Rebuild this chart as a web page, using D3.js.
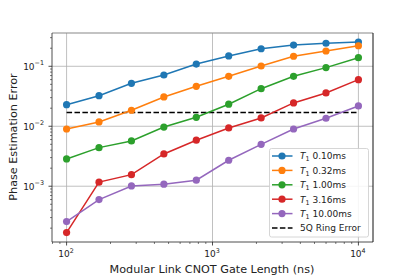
<!DOCTYPE html>
<html>
<head>
<meta charset="utf-8">
<script src="https://cdn.jsdelivr.net/npm/d3@7"></script>
<style>
  body { margin: 0; background: #fff; }
  svg { font-family: "DejaVu Sans", sans-serif; }
</style>
</head>
<body>
<svg id="chart" width="415" height="277"></svg>
<script>
// gate lengths (ns)
var gateLen = [100, 166.8, 278.3, 464.2, 774.3, 1291.5, 2154.4, 3593.8, 5994.8, 10000];
var t1Labels = ['0.10ms', '0.32ms', '1.00ms', '3.16ms', '10.00ms'];
var errT1_010 = [0.0229, 0.0323, 0.052, 0.0716, 0.109, 0.149, 0.196, 0.226, 0.242, 0.254];
var errT1_032 = [0.0090, 0.0118, 0.0185, 0.0308, 0.0464, 0.068, 0.101, 0.147, 0.18, 0.220];
var errT1_100 = [0.00285, 0.0044, 0.00569, 0.0097, 0.0141, 0.0233, 0.0423, 0.068, 0.095, 0.139];
var errT1_316 = [0.000169, 0.00117, 0.00156, 0.00345, 0.00585, 0.00937, 0.01375, 0.0245, 0.0359, 0.0598];
var errT1_1000 = [0.000257, 0.000598, 0.00101, 0.00108, 0.00126, 0.00271, 0.0050, 0.0090, 0.0136, 0.0218];
var ringError = 0.0169;
var colors = ['#1f77b4', '#ff7f0e', '#2ca02c', '#d62728', '#9467bd'];
var xTicks = [1e2, 1e3, 1e4];
var yTicks = [1e-3, 1e-2, 1e-1];

var series = [errT1_010, errT1_032, errT1_100, errT1_316, errT1_1000];

var margin = { top: 33, right: 42, bottom: 35, left: 52 };
var width = 415 - margin.left - margin.right;
var height = 277 - margin.top - margin.bottom;

var svg = d3.select('#chart');
var g = svg.append('g').attr('transform', `translate(${margin.left},${margin.top})`);

var x = d3.scaleLog().domain([Math.pow(10, 1.9), Math.pow(10, 4.1)]).range([0, width]);
var y = d3.scaleLog().domain([Math.pow(10, -3.93), Math.pow(10, -0.445)]).range([height, 0]);

// grid
g.append('g').selectAll('line').data(xTicks).enter().append('line')
  .attr('x1', d => x(d)).attr('x2', d => x(d))
  .attr('y1', 0).attr('y2', height)
  .attr('stroke', '#b0b0b0').attr('stroke-width', 0.8);
g.append('g').selectAll('line').data(yTicks).enter().append('line')
  .attr('y1', d => y(d)).attr('y2', d => y(d))
  .attr('x1', 0).attr('x2', width)
  .attr('stroke', '#b0b0b0').attr('stroke-width', 0.8);

// minor ticks
var xMinor = [];
[10, 100, 1000, 10000].forEach(function (b) {
  for (var k = 2; k < 10; k++) {
    var v = b * k;
    if (v > x.domain()[0] && v < x.domain()[1]) xMinor.push(v);
  }
});
var yMinor = [];
[1e-4, 1e-3, 1e-2, 1e-1].forEach(function (b) {
  for (var k = 2; k < 10; k++) {
    var v = b * k;
    if (v > y.domain()[0] && v < y.domain()[1]) yMinor.push(v);
  }
});
g.append('g').selectAll('line').data(xMinor).enter().append('line')
  .attr('x1', d => x(d)).attr('x2', d => x(d))
  .attr('y1', height).attr('y2', height + 2)
  .attr('stroke', '#222').attr('stroke-width', 0.6);
g.append('g').selectAll('line').data(yMinor).enter().append('line')
  .attr('y1', d => y(d)).attr('y2', d => y(d))
  .attr('x1', 0).attr('x2', -2)
  .attr('stroke', '#222').attr('stroke-width', 0.6);

// major ticks + labels
g.append('g').selectAll('line').data(xTicks).enter().append('line')
  .attr('x1', d => x(d)).attr('x2', d => x(d))
  .attr('y1', height).attr('y2', height + 3.5)
  .attr('stroke', '#222').attr('stroke-width', 0.8);
g.append('g').selectAll('line').data(yTicks).enter().append('line')
  .attr('y1', d => y(d)).attr('y2', d => y(d))
  .attr('x1', 0).attr('x2', -3.5)
  .attr('stroke', '#222').attr('stroke-width', 0.8);

function expLabel(sel, d) {
  var e = Math.round(Math.log10(d));
  sel.append('tspan').text('10');
  sel.append('tspan').attr('dy', -4.5).attr('font-size', 6.4).text(e < 0 ? '\u2212' + (-e) : '' + e);
}

g.append('g').selectAll('text').data(xTicks).enter().append('text')
  .attr('x', d => x(d) - 0.5).attr('y', height + 15)
  .attr('text-anchor', 'middle').attr('font-size', 9).attr('fill', '#222')
  .each(function (d) { expLabel(d3.select(this), d); });

g.append('g').selectAll('text').data(yTicks).enter().append('text')
  .attr('x', -8).attr('y', d => y(d) + 3.5)
  .attr('text-anchor', 'end').attr('font-size', 9).attr('fill', '#222')
  .each(function (d) { expLabel(d3.select(this), d); });

// axis labels
svg.append('text')
  .attr('x', margin.left + x(1000) - 0.5).attr('y', 273)
  .attr('text-anchor', 'middle').attr('font-size', 11.2).attr('fill', '#222')
  .text('Modular Link CNOT Gate Length (ns)');
svg.append('text')
  .attr('transform', 'translate(16.5,137) rotate(-90)')
  .attr('text-anchor', 'middle').attr('font-size', 11.2).attr('fill', '#222')
  .text('Phase Estimation Error');

// ring error reference
g.append('line')
  .attr('x1', x(gateLen[0])).attr('x2', x(gateLen[gateLen.length - 1]))
  .attr('y1', y(ringError)).attr('y2', y(ringError))
  .attr('stroke', '#000').attr('stroke-width', 1.5).attr('stroke-dasharray', '5.5,2.4');

// series
var line = d3.line().x((d, i) => x(gateLen[i])).y(d => y(d));
series.forEach(function (s, k) {
  var sg = g.append('g');
  sg.append('path').datum(s).attr('d', line)
    .attr('fill', 'none').attr('stroke', colors[k]).attr('stroke-width', 1.5);
  sg.selectAll('circle').data(s).enter().append('circle')
    .attr('cx', (d, i) => x(gateLen[i])).attr('cy', d => y(d))
    .attr('r', 3.6).attr('fill', colors[k]);
});

// spines
g.append('line').attr('x1', 0).attr('x2', width).attr('y1', 0).attr('y2', 0)
  .attr('stroke', '#888').attr('stroke-width', 1.2);
g.append('line').attr('x1', 0).attr('x2', 0).attr('y1', 0).attr('y2', height)
  .attr('stroke', '#222').attr('stroke-width', 0.8);
g.append('line').attr('x1', 0).attr('x2', width).attr('y1', height).attr('y2', height)
  .attr('stroke', '#222').attr('stroke-width', 0.8);
g.append('line').attr('x1', width).attr('x2', width).attr('y1', 0).attr('y2', height)
  .attr('stroke', '#111').attr('stroke-width', 1);

// legend
var legX = 269.5, legY = 148.5;
var leg = svg.append('g').attr('transform', `translate(${legX},${legY})`);
leg.append('rect').attr('width', 99).attr('height', 88.5).attr('rx', 2)
  .attr('fill', '#fff').attr('fill-opacity', 0.85)
  .attr('stroke', '#ccc').attr('stroke-width', 0.8);
var rowY = d3.range(6).map(i => 7.5 + i * 14.4);
t1Labels.forEach(function (lab, k) {
  var r = leg.append('g').attr('transform', `translate(0,${rowY[k]})`);
  r.append('line').attr('x1', 2.5).attr('x2', 23).attr('stroke', colors[k]).attr('stroke-width', 1.5);
  r.append('circle').attr('cx', 12.5).attr('r', 3.6).attr('fill', colors[k]);
  var t = r.append('text').attr('x', 30.5).attr('y', 3.3).attr('font-size', 9).attr('fill', '#222');
  t.append('tspan').attr('font-style', 'italic').text('T');
  t.append('tspan').attr('dy', 2).attr('font-size', 6.4).text('1');
  t.append('tspan').attr('dy', -2).text('\u00a0' + lab);
});
var rr = leg.append('g').attr('transform', `translate(0,${rowY[5]})`);
rr.append('line').attr('x1', 2.5).attr('x2', 23).attr('stroke', '#000').attr('stroke-width', 1.5)
  .attr('stroke-dasharray', '5.5,2.4');
rr.append('text').attr('x', 30.5).attr('y', 3.3).attr('font-size', 9).attr('fill', '#222').text('5Q Ring Error');
</script>
</body>
</html>
